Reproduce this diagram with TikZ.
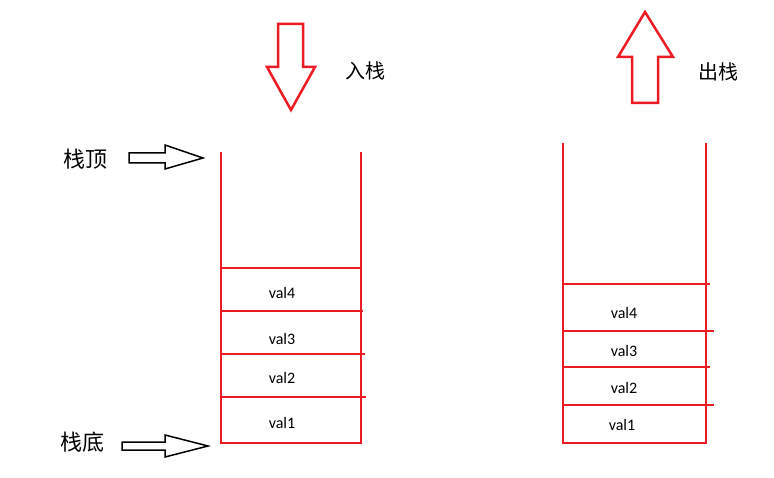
\documentclass[tikz,border=0pt]{standalone}
\usepackage{fontspec}
\setmainfont{Carlito}
\newfontfamily\cjk{Noto Sans CJK SC}
\usepackage{xcolor}
\definecolor{paintred}{HTML}{ED1C24}
\tikzset{
  wall/.style={paintred, line width=2.5pt},
  hollow/.style={paintred, line width=2.5pt, line join=miter},
  pointer/.style={black, line width=1.5pt, line join=miter},
  cell/.style={inner sep=0pt, font=\fontsize{16}{19}\selectfont},
  caption/.style={inner sep=0pt, font=\cjk\fontsize{20}{24}\selectfont},
  bigcaption/.style={inner sep=0pt, font=\cjk\fontsize{22}{26}\selectfont}
}
\begin{document}
\begin{tikzpicture}[x=1pt, y=-1pt]
\useasboundingbox (0,0) rectangle (774,478);

\draw[hollow] (278,24) -- (303,24) -- (303,67) -- (315,67) -- (291,110) -- (267,67) -- (278,67) -- cycle;
\node[caption] (push) at (365,71) {入栈};

\draw[wall] (221,152) -- (221,443) -- (361,443) -- (361,152);
\draw[wall] (221,268) -- (361,268);
\draw[wall] (221,311) -- (363,311);
\draw[wall] (221,354) -- (365,354);
\draw[wall] (221,397) -- (366,397);
\node[cell] (lval4) at (282,293) {val4};
\node[cell] (lval3) at (282,339) {val3};
\node[cell] (lval2) at (282,378) {val2};
\node[cell] (lval1) at (282,423) {val1};

\node[bigcaption] (top) at (85,159) {栈顶};
\draw[pointer] (129,153) -- (165,153) -- (165,145) -- (203,158) -- (165,169) -- (165,163) -- (129,163) -- cycle;
\node[bigcaption] (bottom) at (82,442) {栈底};
\draw[pointer] (122,442) -- (165,442) -- (165,435) -- (208,446) -- (165,457) -- (165,450) -- (122,450) -- cycle;

\draw[hollow] (645,12) -- (673,57) -- (658,57) -- (658,103) -- (632,103) -- (632,57) -- (618,57) -- cycle;
\node[caption] (pop) at (718,72) {出栈};

\draw[wall] (563,143) -- (563,443) -- (706,443) -- (706,143);
\draw[wall] (563,284) -- (710,284);
\draw[wall] (563,331) -- (714,331);
\draw[wall] (563,367) -- (710,367);
\draw[wall] (563,405) -- (714,405);
\node[cell] (rval4) at (624,313) {val4};
\node[cell] (rval3) at (624,351) {val3};
\node[cell] (rval2) at (624,388) {val2};
\node[cell] (rval1) at (622,425) {val1};
\end{tikzpicture}
\end{document}
